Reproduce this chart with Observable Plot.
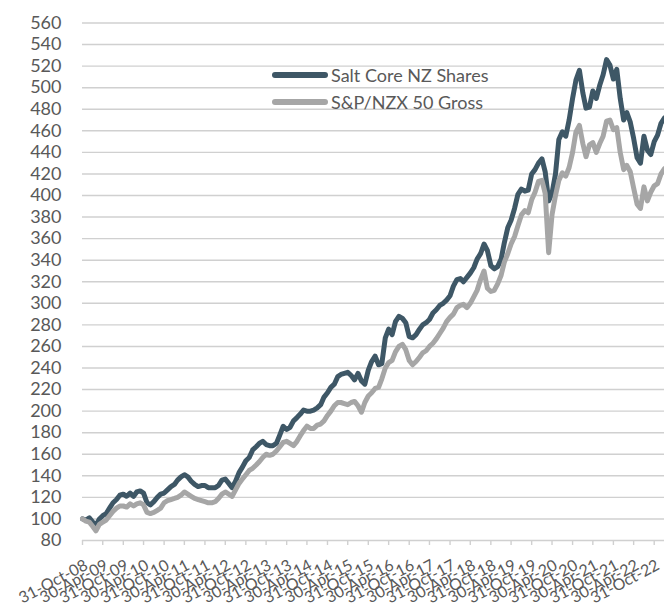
<!DOCTYPE html>
<html><head><meta charset="utf-8">
<script src="https://cdn.jsdelivr.net/npm/d3@7"></script>
<script src="https://cdn.jsdelivr.net/npm/@observablehq/plot@0.6"></script>
<style>
html,body{margin:0;padding:0;background:#fff;}
#wrap{position:relative;width:664px;height:608px;font-family:Lato,sans-serif;}
.legend{position:absolute;left:272px;top:61px;font-size:18px;color:#595959;font-family:Lato,sans-serif;}
.row{display:flex;align-items:center;height:27px;white-space:nowrap;}
.sw{width:56px;height:6px;border-radius:3px;margin-right:3px;}
</style></head><body><div id="wrap"></div>
<script>
const seriesNames = ["Salt Core NZ Shares", "S&P/NZX 50 Gross"];
const seriesColors = ["#3e5766", "#a6a6a6"];
// monthly values, 31-Oct-08 .. 31-Jan-23
const saltCore = [
100, 99, 101, 97, 94, 100, 103, 105, 110, 115,
118, 122, 123, 121, 124, 121, 125, 126, 124, 115,
113, 116, 120, 123, 124, 127, 130, 132, 136, 139,
141, 139, 135, 132, 130, 131, 131, 129, 129, 129,
131, 136, 137, 133, 129, 135, 143, 148, 154, 157,
164, 167, 170, 172, 169, 168, 168, 170, 178, 186,
183, 185, 191, 194, 197, 201, 200, 200, 201, 203,
206, 213, 217, 222, 225, 232, 234, 235, 236, 233,
229, 235, 228, 225, 238, 246, 251, 243, 244, 268,
276, 271, 283, 288, 286, 282, 269, 268, 271, 276,
280, 282, 285, 291, 294, 298, 300, 303, 307, 316,
322, 323, 320, 324, 328, 333, 341, 346, 355, 349,
335, 332, 334, 341, 356, 370, 377, 388, 401, 406,
404, 405, 420, 424, 430, 434, 422, 395, 402, 420,
452, 459, 455, 470, 490, 507, 516, 495, 481, 482,
497, 490, 502, 512, 526, 521, 508, 517, 490, 470,
477, 468, 453, 435, 430, 455, 442, 438, 450, 456,
467, 472];
const nzx50 = [
100, 98, 97, 93, 89, 95, 97, 99, 103, 107,
110, 112, 112, 111, 114, 112, 114, 115, 113, 106,
105, 106, 108, 110, 115, 117, 118, 119, 120, 122,
125, 123, 121, 119, 118, 117, 116, 115, 115, 116,
119, 123, 125, 123, 121, 127, 133, 137, 141, 145,
147, 150, 153, 157, 160, 159, 160, 163, 167, 171,
172, 170, 168, 172, 177, 182, 186, 184, 184, 187,
188, 191, 196, 200, 205, 208, 208, 207, 206, 208,
209, 205, 199, 208, 214, 217, 221, 222, 230, 240,
245, 247, 255, 260, 262, 257, 247, 243, 246, 250,
254, 256, 260, 263, 267, 272, 277, 283, 287, 290,
296, 298, 299, 296, 300, 306, 312, 322, 330, 314,
311, 312, 318, 326, 338, 346, 355, 362, 372, 382,
386, 384, 396, 403, 413, 414, 402, 347, 382, 400,
414, 421, 418, 426, 440, 459, 465, 448, 436, 447,
449, 440, 448, 455, 469, 470, 461, 463, 440, 424,
428, 422, 407, 392, 388, 408, 395, 403, 409, 411,
420, 425];
const xTickLabels = ["31-Oct-08","30-Apr-09","31-Oct-09","30-Apr-10","31-Oct-10","30-Apr-11","31-Oct-11","30-Apr-12","31-Oct-12","30-Apr-13","31-Oct-13","30-Apr-14","31-Oct-14","30-Apr-15","31-Oct-15","30-Apr-16","31-Oct-16","30-Apr-17","31-Oct-17","30-Apr-18","31-Oct-18","30-Apr-19","31-Oct-19","30-Apr-20","31-Oct-20","30-Apr-21","31-Oct-21","30-Apr-22","31-Oct-22"];
const yTicks = [80,100,120,140,160,180,200,220,240,260,280,300,320,340,360,380,400,420,440,460,480,500,520,540,560];

const dates = saltCore.map((_, i) => new Date(Date.UTC(2008, 10 + i, 0)));
const parse = d3.utcParse("%d-%b-%y");
const tickDates = xTickLabels.map(parse);
const saltData = dates.map((d, i) => ({date: d, value: saltCore[i]}));
const nzxData = dates.map((d, i) => ({date: d, value: nzx50[i]}));

const chart = Plot.plot({
  width: 664, height: 608,
  marginLeft: 82, marginRight: 0, marginTop: 22.5, marginBottom: 68,
  x: {type: "utc", domain: [dates[0], dates[dates.length - 1]]},
  y: {domain: [80, 560]},
  style: {fontFamily: "Lato, sans-serif", fontSize: "18px", color: "#595959", background: "white"},
  marks: [
    Plot.ruleY(yTicks, {stroke: "#d0d0d0", strokeWidth: 1.4}),
    Plot.axisY({ticks: yTicks, tickSize: 0, tickPadding: 21, fontSize: 18, label: null, fill: "#595959"}),
    Plot.axisX({ticks: tickDates, tickSize: 5, tickFormat: () => "", label: null, stroke: "#d0d0d0", strokeWidth: 1.4}),
    Plot.text(tickDates, {x: d => d, frameAnchor: "bottom", text: (d, i) => xTickLabels[i], rotate: -28, textAnchor: "end", lineAnchor: "top", dy: 18, dx: 1, fill: "#595959", fontSize: 16}),
    Plot.line(saltData, {x: "date", y: "value", stroke: seriesColors[0], strokeWidth: 5, strokeLinejoin: "round", strokeLinecap: "round"}),
    Plot.line(nzxData, {x: "date", y: "value", stroke: seriesColors[1], strokeWidth: 5, strokeLinejoin: "round", strokeLinecap: "round"})
  ]
});
const wrap = document.getElementById("wrap");
wrap.appendChild(chart);
const leg = document.createElement("div");
leg.className = "legend";
seriesNames.forEach((n, i) => {
  const r = document.createElement("div");
  r.className = "row";
  const s = document.createElement("div");
  s.className = "sw";
  s.style.background = seriesColors[i];
  const t = document.createElement("span");
  t.textContent = n;
  r.appendChild(s); r.appendChild(t);
  leg.appendChild(r);
});
wrap.appendChild(leg);
</script></body></html>
